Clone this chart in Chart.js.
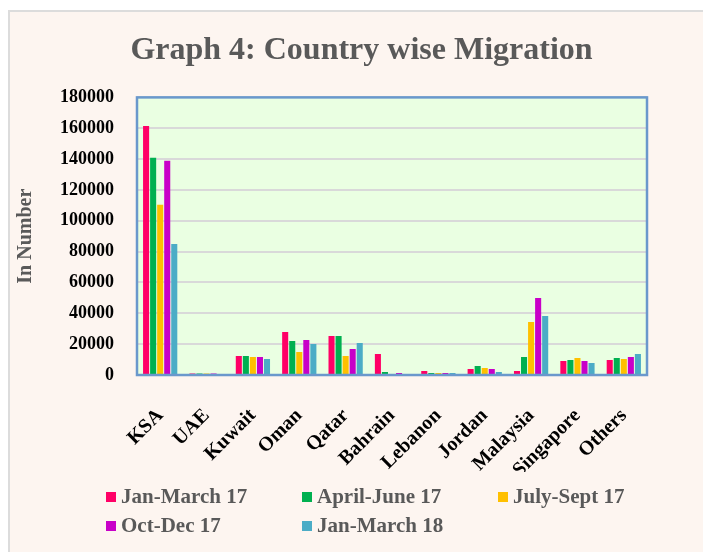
<!DOCTYPE html>
<html lang="en">
<head>
    <meta charset="utf-8"/>
    <title>Country wise Migration</title>
    <script src="https://cdn.jsdelivr.net/npm/chart.js"></script>
    <style>
        html, body { margin: 0; padding: 0; background: #ffffff; }
        body { width: 703px; height: 552px; position: relative; overflow: hidden; }
        /* outer frame of the figure */
        .frame {
            position: absolute; left: 8px; top: 10px; width: 720px; height: 560px;
            background: #fdf5f0; border: 2px solid #dcdcdc;
        }
        #wrap { position: absolute; left: 0; top: 0; width: 703px; height: 552px; }
        .legend {
            position: absolute; left: 106px; top: 482px;
            font: bold 21px "Liberation Serif", "Times New Roman", serif; color: #595959;
        }
        .legend .item { position: absolute; white-space: nowrap; display: flex; align-items: center; height: 29px; }
        .legend .box { width: 10px; height: 10px; margin-right: 5px; }
    </style>
</head>
<body>
    <div class="frame"></div>
    <div id="wrap"><canvas id="migrationChart" width="703" height="552"></canvas></div>
    <div class="legend" id="legend"></div>

<script>
        const countries = ['KSA', 'UAE', 'Kuwait', 'Oman', 'Qatar', 'Bahrain', 'Lebanon', 'Jordan', 'Malaysia', 'Singapore', 'Others'];

        const periods = ['Jan-March 17', 'April-June 17', 'July-Sept 17', 'Oct-Dec 17', 'Jan-March 18'];

        // values (estimated)
        const janMar17 = [161500, 1000, 12300, 27900, 25300, 13600, 2600, 3900, 2600, 9100, 9700];
        const aprJun17 = [140900, 900, 12300, 22100, 25300, 1900, 1300, 5800, 11700, 9700, 11000];
        const julSep17 = [110400, 900, 11700, 14900, 12300, 600, 1300, 4500, 34400, 11000, 10400];
        const octDec17 = [139000, 1000, 11700, 22700, 16900, 1300, 1300, 3900, 50000, 9100, 11700];
        const janMar18 = [85000, 200, 10400, 20100, 20800, 200, 1300, 1900, 38300, 7800, 13600];

        const yTicks = [0, 20000, 40000, 60000, 80000, 100000, 120000, 140000, 160000, 180000];

        const colors = ['#ff0066', '#00b050', '#ffc000', '#c800c8', '#4bacc6'];
        const series = [janMar17, aprJun17, julSep17, octDec17, janMar18];

        const serif = '"Liberation Serif", "Times New Roman", serif';

        // green plot area with blue border
        const plotArea = {
            id: 'plotArea',
            afterLayout(chart) {
                // centre the title over the whole frame rather than the padded box
                if (chart.titleBlock) {
                    chart.titleBlock.left = 20;
                    chart.titleBlock.right = 703;
                }
            },
            beforeDraw(chart) {
                const a = chart.chartArea;
                const ctx = chart.ctx;
                ctx.save();
                ctx.fillStyle = '#eaffe2';
                ctx.fillRect(a.left, a.top, a.right - a.left, a.bottom - a.top);
                ctx.restore();
            },
            afterDraw(chart) {
                const a = chart.chartArea;
                const ctx = chart.ctx;
                ctx.save();
                ctx.strokeStyle = '#6a98cc';
                ctx.lineWidth = 2.5;
                ctx.strokeRect(a.left, a.top, a.right - a.left, a.bottom - a.top);
                ctx.restore();
            }
        };

        new Chart(document.getElementById('migrationChart'), {
            type: 'bar',
            data: {
                labels: countries,
                datasets: series.map((d, i) => ({
                    label: periods[i],
                    data: d,
                    backgroundColor: colors[i],
                    borderWidth: 0,
                    categoryPercentage: 0.76,
                    barPercentage: 0.86
                }))
            },
            options: {
                responsive: false,
                animation: false,
                layout: { padding: { left: 8, right: 56, top: 0, bottom: 80 } },
                plugins: {
                    legend: { display: false },
                    tooltip: { enabled: false },
                    title: {
                        display: true,
                        text: 'Graph 4: Country wise Migration',
                        color: '#595959',
                        font: { family: serif, size: 32, weight: 'bold', lineHeight: 1.2 },
                        padding: { top: 32, bottom: 27 }
                    }
                },
                scales: {
                    x: {
                        grid: { display: false },
                        border: { display: false },
                        ticks: {
                            color: '#000000',
                            font: { family: serif, size: 20, weight: 'bold' },
                            minRotation: 45,
                            maxRotation: 45,
                            autoSkip: false,
                            padding: 21
                        },
                        afterFit(scale) { scale.height = 97; }
                    },
                    y: {
                        min: 0,
                        max: 180000,
                        afterBuildTicks(scale) { scale.ticks = yTicks.map(v => ({ value: v })); },
                        grid: { color: '#d9d9d9', lineWidth: 2, drawTicks: false },
                        border: { display: false },
                        ticks: {
                            color: '#000000',
                            font: { family: serif, size: 18, weight: 'bold' },
                            padding: 23,
                            callback: v => String(v)
                        },
                        title: {
                            display: true,
                            text: 'In Number',
                            color: '#595959',
                            font: { family: serif, size: 20, weight: 'bold' },
                            padding: { top: 6, bottom: 0 }
                        },
                        afterFit(scale) { scale.width = 129; }
                    }
                }
            },
            plugins: [plotArea]
        });

        // legend in three columns, two rows
        const legend = document.getElementById('legend');
        periods.forEach((p, i) => {
            const item = document.createElement('div');
            item.className = 'item';
            item.style.left = (i % 3) * 196 + 'px';
            item.style.top = Math.floor(i / 3) * 29 + 'px';
            item.innerHTML = '<span class="box" style="background:' + colors[i] + '"></span>' + p;
            legend.appendChild(item);
        });
</script>
</body>
</html>
